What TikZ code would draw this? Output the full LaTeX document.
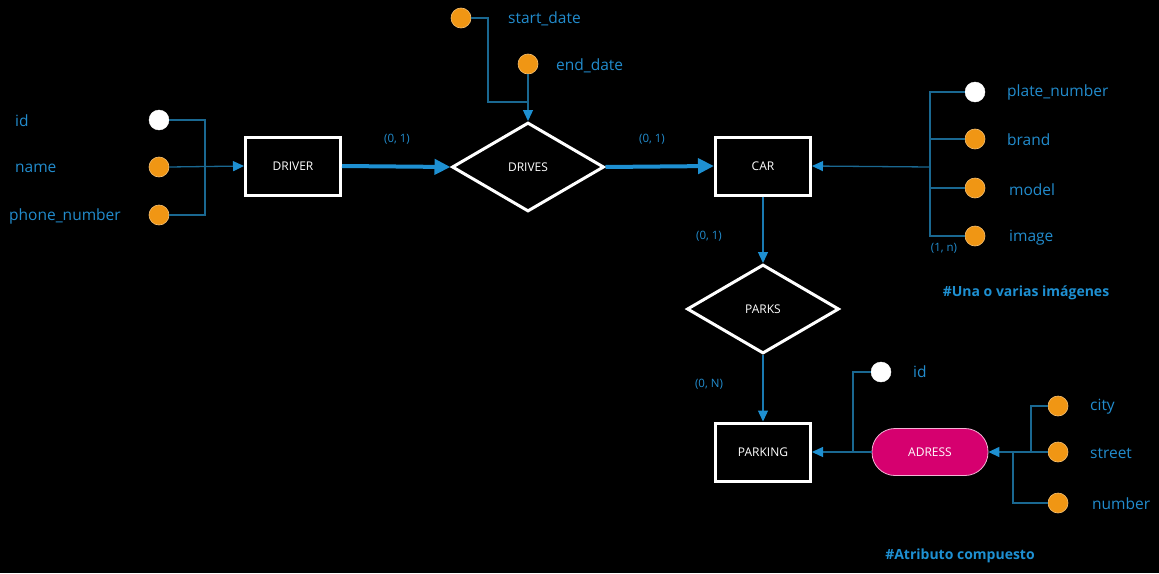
\documentclass[tikz,border=0pt]{standalone}
\usepackage{fontspec}
\setmainfont{Open Sans}
\usetikzlibrary{shapes.geometric,arrows.meta}
\definecolor{lbl}{RGB}{34,140,205}
\definecolor{ln}{RGB}{26,104,145}
\definecolor{arr}{RGB}{30,144,210}
\definecolor{orng}{RGB}{240,150,20}
\definecolor{mag}{RGB}{214,0,111}
\begin{document}
\begin{tikzpicture}[x=1pt,y=-1pt,
  entity/.style={draw=white, line width=3pt, fill=black, minimum width=95, minimum height=58, text=white, font=\fontsize{12}{14}\selectfont},
  rel/.style={diamond, draw=white, line width=3pt, fill=black, minimum width=152, minimum height=89, inner sep=0pt, text=white, font=\fontsize{12}{14}\selectfont},
  attr/.style={circle, draw=orng!60!white, line width=0.6pt, fill=orng, minimum size=20, inner sep=0pt},
  keyattr/.style={circle, draw=white, fill=white, minimum size=20, inner sep=0pt},
  adr/.style={draw=white!70!mag, line width=0.8pt, fill=mag, rounded corners=23pt, minimum width=116, minimum height=47, text=white, font=\fontsize{12}{14}\selectfont},
  lab/.style={text=lbl, font=\fontsize{15.5}{18}\selectfont, anchor=west, inner sep=0pt, yshift=-1.5pt},
  card/.style={text=lbl, font=\fontsize{11.5}{13}\selectfont, inner sep=0pt, yshift=-1pt},
  note/.style={text=arr, font=\bfseries\fontsize{14}{16}\selectfont, inner sep=0pt, yshift=-1.5pt},
  conn/.style={draw=ln, line width=1.3pt},
  tip/.style={-{Triangle[length=11pt,width=10pt,color=arr]}},
  bigarrow/.style={draw=arr, line width=4pt, -{Triangle[length=16pt,width=15pt,color=arr]}, shorten >=0pt}
]
\fill[black] (0,0) rectangle (1159,573);

% main nodes
\node[entity] (driver) at (293,166) {DRIVER};
\node[rel] (drives) at (528,167) {DRIVES};
\node[entity] (car) at (763,166) {CAR};
\node[rel] (parks) at (763,309) {PARKS};
\node[entity] (parking) at (763,452) {PARKING};
\node[adr] (adress) at (930,452) {ADRESS};

% DRIVER attributes
\node[keyattr] (did) at (159,120) {};
\node[attr] (dname) at (159,167) {};
\node[attr] (dphone) at (159,215) {};
\node[lab] (ldid) at (15,119) {id};
\node[lab] (ldname) at (15,167) {name};
\node[lab] (ldphone) at (9,215) {phone\_number};
\coordinate (dj) at (205,167);
\draw[conn] (did.east) -| (dj) |- (dphone.east);
\draw[conn,tip] (dname.east) -- (driver.west);

% DRIVES attributes
\node[attr] (sd) at (461,18) {};
\node[attr] (ed) at (528,64) {};
\node[lab] (lsd) at (508,17) {start\_date};
\node[lab] (led) at (556,64) {end\_date};
\coordinate (sj) at (488,102);
\coordinate (ej) at (528,102);
\draw[conn] (sd.east) -| (sj) -- (ej);
\draw[conn,tip] (ed.south) -- (drives.north);

% main relations
\draw[bigarrow] (driver.east) -- (drives.west);
\draw[bigarrow] (drives.east) -- (car.west);
\node[card] (c1) at (397,138) {(0, 1)};
\node[card] (c2) at (652,138) {(0, 1)};

% CAR attributes
\node[keyattr] (cpn) at (975,92) {};
\node[attr] (cbr) at (975,139) {};
\node[attr] (cmo) at (975,188) {};
\node[attr] (cim) at (975,236) {};
\node[lab] (lcpn) at (1007,91) {plate\_number};
\node[lab] (lcbr) at (1007,138) {brand};
\node[lab] (lcmo) at (1009,188) {model};
\node[lab] (lcim) at (1009,236) {image};
\coordinate (cj) at (930,167);
\draw[conn] (cpn.west) -| (cj) |- (cim.west);
\draw[conn] (cbr.west) -- (cbr.west -| cj);
\draw[conn] (cmo.west) -- (cmo.west -| cj);
\draw[conn,tip] (cj) -- (car.east);
\node[card] (c1n) at (944,247) {(1, n)};
\node[note] (n1) at (1026,291) {\#Una o varias imágenes};

% CAR - PARKS - PARKING
\draw[conn,draw=arr!85!black,tip] (car.south) -- (parks.north);
\draw[conn,draw=arr!85!black,tip] (parks.south) -- (parking.north);
\node[card] (c3) at (709,235) {(0, 1)};
\node[card] (c4) at (709,383) {(0, N)};

% PARKING attributes
\node[keyattr] (pid) at (881,372) {};
\node[lab] (lpid) at (913,370) {id};
\coordinate (pj) at (853,452);
\draw[conn] (pid.west) -| (pj);
\draw[conn,tip] (adress.west) -- (parking.east);

% ADRESS attributes
\node[attr] (acity) at (1058,406) {};
\node[attr] (ast) at (1058,452) {};
\node[attr] (anum) at (1058,503) {};
\node[lab] (lacity) at (1090,405) {city};
\node[lab] (last) at (1090,452) {street};
\node[lab] (lanum) at (1092,502) {number};
\coordinate (aj1) at (1031,452);
\coordinate (aj2) at (1013,452);
\draw[conn] (acity.west) -| (aj1);
\draw[conn] (anum.west) -| (aj2);
\draw[conn,tip] (ast.west) -- (adress.east);
\node[note] (n2) at (960,554) {\#Atributo compuesto};
\end{tikzpicture}
\end{document}
